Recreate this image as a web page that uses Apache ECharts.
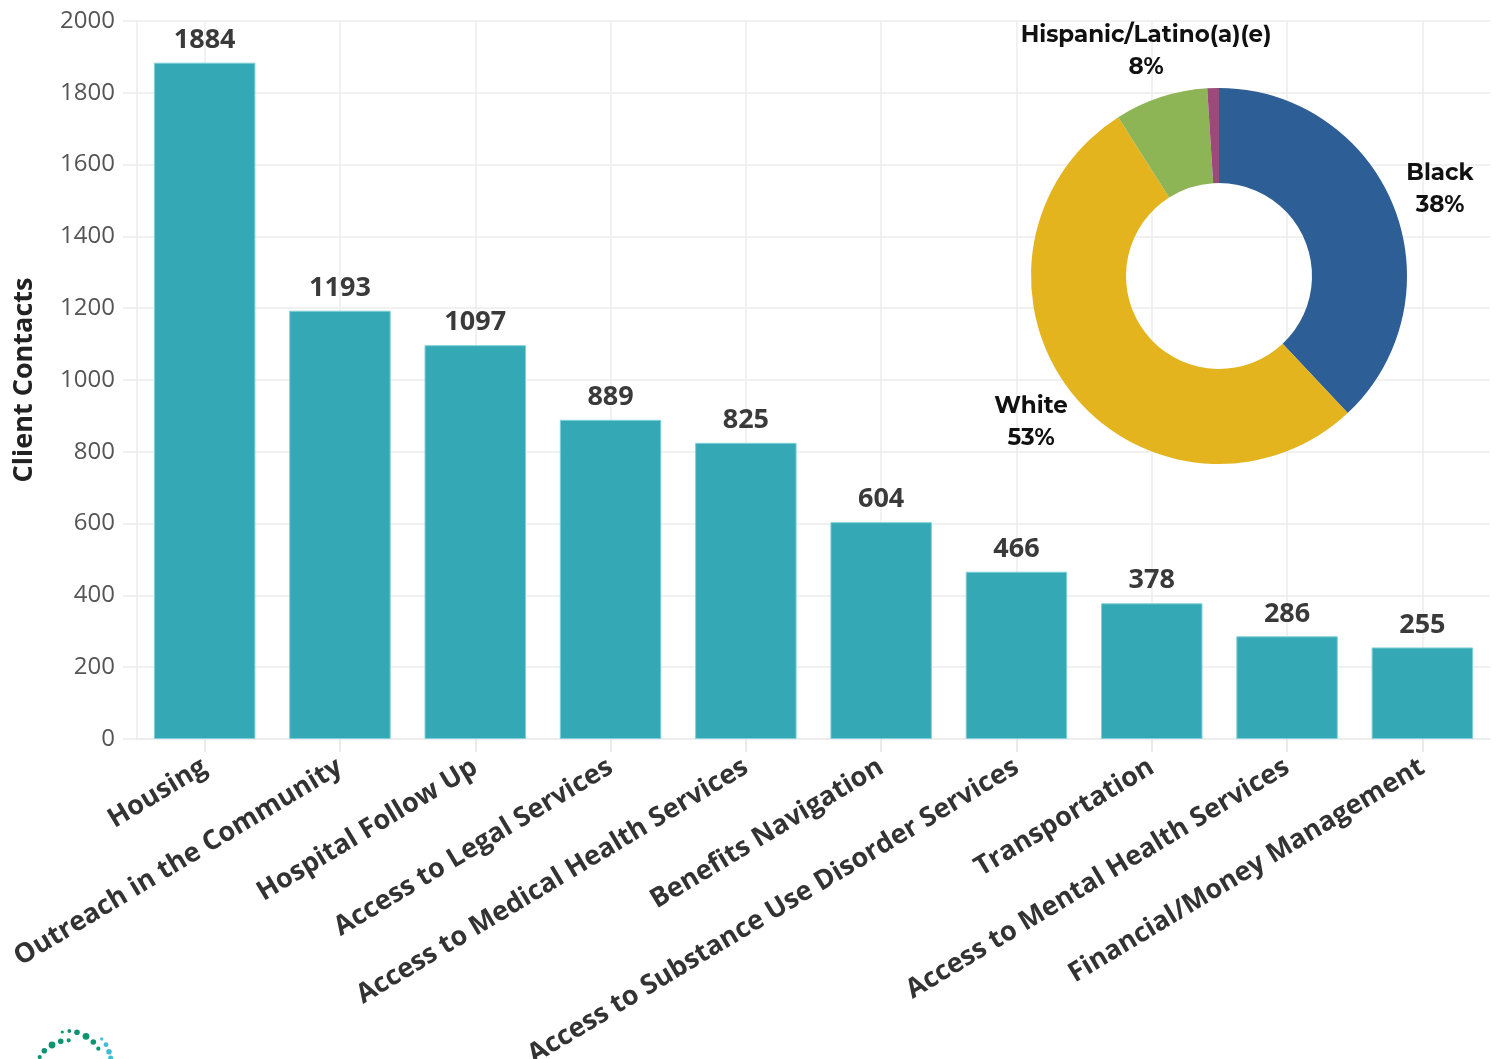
<!DOCTYPE html>
<html>
<head>
<meta charset="utf-8">
<script src="https://cdn.jsdelivr.net/npm/echarts@6/dist/echarts.min.js"></script>
<style>
html,body{margin:0;padding:0;background:#fff;}
#chart{width:1501px;height:1059px;}
</style>
</head>
<body>
<div id="chart"></div>
<script>
const categories = ["Housing","Outreach in the Community","Hospital Follow Up","Access to Legal Services","Access to Medical Health Services","Benefits Navigation","Access to Substance Use Disorder Services","Transportation","Access to Mental Health Services","Financial/Money Management"];
const contacts = [1884,1193,1097,889,825,604,466,378,286,255];
const raceNames = ["Black","White","Hispanic/Latino(a)(e)","Other"];
const racePct = [38,53,8,1];
const raceColors = ["#2E5E96","#E4B41E","#8DB556","#9B4A7A"];
const yTicks = {min:0,max:2000,interval:200};

// decorative logo dots (partial, cropped at bottom-left)
const logoDots = [
  [62.3,1032,1.6,'#0d9470'],[69.3,1031,1.9,'#0d9470'],[77,1032.3,2.8,'#0d9470'],[86,1036.3,3.4,'#0d9470'],
  [93.3,1042,2.8,'#0d9470'],[98.3,1048.7,2.1,'#0d9470'],[101.7,1039,1.8,'#55c2d8'],[106,1044.7,2.4,'#45bcd4'],
  [109,1051.7,2.8,'#45bcd4'],[110.7,1058,2.6,'#45bcd4'],[68.7,1040.3,2.1,'#0d9470'],[60.7,1041.3,2.8,'#0d9470'],
  [52,1045,3.4,'#0d9470'],[44.3,1050.7,2.8,'#0d9470'],[39.7,1057,2.1,'#0d9470']
];

const chart = echarts.init(document.getElementById('chart'), null, {renderer:'canvas'});
const labelPos = {0:[1440,189],1:[1031,422],2:[1146,51]};
const option = {
  animation:false,
  backgroundColor:'#fff',
  grid:{left:137,right:11,top:21,bottom:320,containLabel:false,outerBoundsMode:'none'},
  graphic: logoDots.map(d=>({type:'circle',shape:{cx:d[0],cy:d[1],r:d[2]},style:{fill:d[3]},silent:true})),
  xAxis:{
    type:'category', data:categories,
    axisLine:{show:true,lineStyle:{color:'#ebebeb',width:1.5}},
    axisTick:{show:true,alignWithLabel:true,length:13,lineStyle:{color:'#e3e3e3',width:1.5}},
    splitLine:{show:true,alignWithLabel:true,lineStyle:{color:'#ececec',width:1.5}},
    axisLabel:{interval:0,rotate:31,margin:26,fontFamily:'"Open Sans"',fontWeight:'bold',fontSize:27,color:'#333'}
  },
  yAxis:{
    type:'value', min:yTicks.min, max:yTicks.max, interval:yTicks.interval,
    name:'Client Contacts', nameLocation:'middle', nameGap:99,
    nameTextStyle:{fontFamily:'"Open Sans"',fontWeight:'bold',fontSize:27,color:'#222'},
    axisLine:{show:true,lineStyle:{color:'#ebebeb',width:1.5}},
    axisTick:{show:true,length:14,lineStyle:{color:'#ebebeb',width:1.5}},
    splitLine:{show:true,lineStyle:{color:'#ececec',width:1.5}},
    axisLabel:{margin:22,fontFamily:'"Open Sans"',fontSize:24,color:'#555',formatter:v=>String(v)}
  },
  series:[
    {
      type:'bar', data:contacts, barCategoryGap:'25%',
      itemStyle:{color:'#35A8B6',borderColor:'#7fd0d8',borderWidth:1},
      label:{show:true,position:'top',distance:9,fontFamily:'"Open Sans"',fontWeight:'bold',fontSize:27,color:'#3a3a3a'}
    },
    {
      type:'pie', center:[1219,276], radius:[93,188], startAngle:90, clockwise:true,
      data:raceNames.map((n,i)=>({name:n,value:racePct[i],itemStyle:{color:raceColors[i]},label:{show:i<3}})),
      label:{show:true,formatter:p=>p.name+'\n'+p.value+'%',fontFamily:'Montserrat, "Open Sans", sans-serif',fontWeight:'bold',fontSize:23,lineHeight:32,color:'#111',align:'center',overflow:'none',width:300},
      labelLine:{show:false},
      labelLayout:function(params){
        const p = labelPos[params.dataIndex];
        if(!p) return {};
        return {x:p[0],y:p[1],align:'center',verticalAlign:'middle'};
      },
      emphasis:{disabled:true}
    }
  ]
};
chart.setOption(option);
</script>
</body>
</html>
